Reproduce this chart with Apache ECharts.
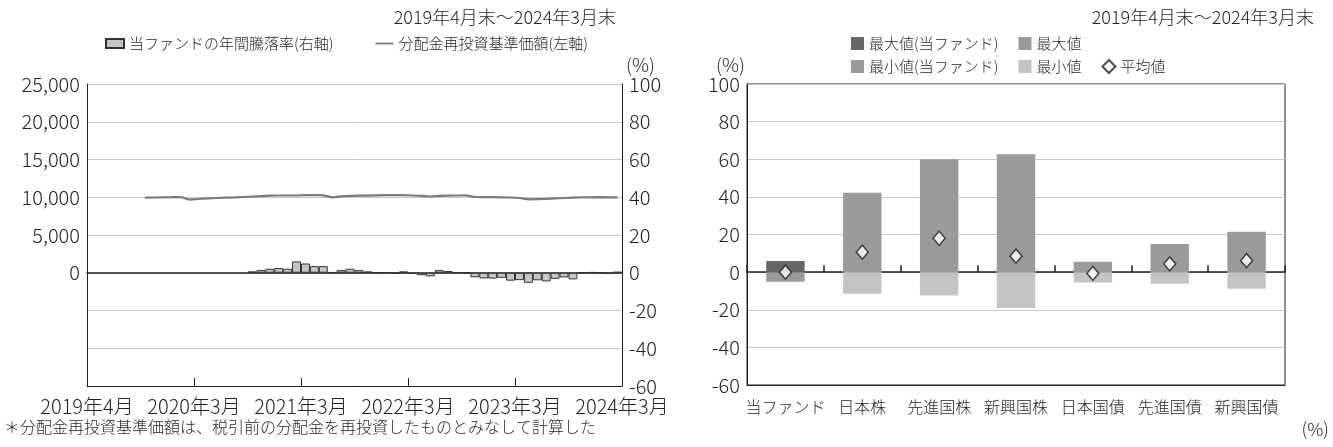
<!DOCTYPE html>
<html><head><meta charset="utf-8">
<script src="https://cdn.jsdelivr.net/npm/echarts@6/dist/echarts.min.js"></script>
<style>html,body{margin:0;padding:0;background:#fff}#c{width:1333px;height:447px}</style>
</head><body><div id="c"></div>
<script>
// ---- data ----
const periodTitle = '2019年4月末～2024年3月末';
const xTickLabels = ['2019年4月','2020年3月','2021年3月','2022年3月','2023年3月','2024年3月'];
const months = [];
for (let i = 0; i < 60; i++) { const t = 2019 * 12 + 3 + i; months.push(Math.floor(t / 12) + '年' + (t % 12 + 1) + '月'); }
const navValues = [null,null,null,null,null,null,
  9950,9970,9990,10010,10035,9680,9770,9860,9900,9950,9990,10035,10080,10145,10210,10230,10230,10230,
  10280,10300,10255,9990,10125,10170,10210,10210,10255,10280,10300,10280,10230,10170,10100,10190,10210,
  10230,10255,10035,10010,10010,9990,9970,9900,9730,9750,9770,9860,9900,9950,9990,9990,10010,9990,9990];
const returnValues = [null,null,null,null,null,null,null,null,null,null,null,null,null,null,null,null,null,null,
  0.7,1.4,2.1,2.5,2.1,6.0,4.9,3.5,3.5,0.3,1.4,2.1,1.4,0.7,0.2,0.1,-0.1,0.7,-0.6,-1.3,-1.9,1.4,0.9,0.1,-0.1,
  -2.4,-3.0,-3.1,-2.7,-4.2,-3.9,-5.3,-4.0,-4.6,-3.2,-2.5,-3.5,-0.1,0.3,0.1,-0.4,0.5];
const categories = ['当ファンド','日本株','先進国株','新興国株','日本国債','先進国債','新興国債'];
const maxValues = [5.9, 42.2, 60.0, 62.7, 5.5, 15.0, 21.4];
const minValues = [-5.1, -11.5, -12.4, -19.1, -5.5, -6.2, -8.8];
const avgValues = [0.0, 10.6, 18.0, 8.5, -0.7, 4.4, 6.1];

// ---- chart ----
const FONT = '"Noto Sans CJK JP", sans-serif';
const INK = '#231f20';
const txt = (size) => ({ fontFamily: FONT, fontSize: size, color: INK, fontWeight: 300 });
const fundOnly = (arr) => arr.map((v, i) => i === 0 ? v : '-');
const othersOnly = (arr) => arr.map((v, i) => i === 0 ? '-' : v);

const chart = echarts.init(document.getElementById('c'), null, { renderer: 'canvas' });
chart.setOption({
  animation: false,
  textStyle: { fontFamily: FONT },
  title: [
    { text: periodTitle, right: 712, top: 3, textStyle: txt(18) },
    { text: periodTitle, right: 14, top: 3, textStyle: txt(18) }
  ],
  legend: [
    { left: 100, top: 31, itemGap: 42, itemWidth: 18, itemHeight: 9, textStyle: txt(15),
      data: [{ name: '当ファンドの年間騰落率(右軸)', icon: 'rect' },
             { name: '分配金再投資基準価額(左軸)', icon: 'path://M0,0H20V2H0Z' }] },
    { left: 846, top: 31, itemGap: 20, itemWidth: 13, itemHeight: 13, textStyle: txt(15),
      data: [{ name: '最大値(当ファンド)', icon: 'rect' }, { name: '最大値', icon: 'rect' }] },
    { left: 846, top: 54, itemGap: 20, itemWidth: 13, itemHeight: 13, textStyle: txt(15),
      data: [{ name: '最小値(当ファンド)', icon: 'rect' }, { name: '最小値', icon: 'rect' }, { name: '平均値', icon: 'diamond' }] }
  ],
  grid: [
    { left: 87, right: 711, top: 84, bottom: 61 },
    { left: 747, right: 48, top: 84, bottom: 62, show: true, borderColor: INK, borderWidth: 1 }
  ],
  xAxis: [
    { gridIndex: 0, type: 'category', data: months, boundaryGap: true, position: 'bottom',
      axisLine: { show: true, onZero: false, lineStyle: { color: INK, width: 1 } },
      axisTick: { show: true, inside: true, length: 8, interval: (i) => i > 0 && i % 12 === 0, lineStyle: { color: INK, width: 1 } },
      axisLabel: { show: false }, splitLine: { show: false } },
    { gridIndex: 0, type: 'value', min: 0, max: 60, interval: 12, position: 'bottom',
      axisLine: { show: false, onZero: false }, axisTick: { show: false }, splitLine: { show: false },
      axisLabel: { ...txt(20), margin: 10, formatter: (v) => xTickLabels[Math.round(v / 12)] } },
    { gridIndex: 0, type: 'category', data: months, boundaryGap: true,
      axisLine: { show: true, onZero: true, lineStyle: { color: INK, width: 1.5 } },
      axisTick: { show: false }, axisLabel: { show: false }, splitLine: { show: false } },
    { gridIndex: 1, type: 'category', data: categories, position: 'bottom',
      axisLine: { show: true, onZero: false, lineStyle: { color: INK } }, axisTick: { show: false },
      axisLabel: { ...txt(16), margin: 14, interval: 0 } },
    { gridIndex: 1, type: 'category', data: categories, position: 'bottom',
      axisLine: { show: true, onZero: true, lineStyle: { color: INK, width: 1.5 } },
      axisTick: { show: true, inside: true, length: 7, interval: 0, lineStyle: { color: INK, width: 1.5 } },
      axisLabel: { show: false } }
  ],
  yAxis: [
    { gridIndex: 0, type: 'value', min: -15000, max: 25000, interval: 5000, position: 'left',
      axisLine: { show: true, onZero: false, lineStyle: { color: INK } }, axisTick: { show: false },
      splitLine: { show: true, lineStyle: { color: '#c8c8c8' } },
      axisLabel: { ...txt(20), margin: 7, formatter: (v) => v < 0 ? '' : v.toLocaleString('en-US') } },
    { gridIndex: 0, type: 'value', min: -60, max: 100, interval: 20, position: 'right',
      name: '(%)', nameLocation: 'end', nameGap: 6,
      nameTextStyle: { ...txt(19), align: 'left', padding: [0, 0, 0, 4] },
      axisLine: { show: true, onZero: false, lineStyle: { color: INK } }, axisTick: { show: false },
      splitLine: { show: false }, axisLabel: { ...txt(20), margin: 7 } },
    { gridIndex: 1, type: 'value', min: -60, max: 100, interval: 20, position: 'left',
      name: '(%)', nameLocation: 'end', nameGap: 6,
      nameTextStyle: { ...txt(19), align: 'right', padding: [0, 2, 0, 0] },
      axisLine: { show: true, onZero: false, lineStyle: { color: INK } }, axisTick: { show: false },
      splitLine: { show: true, lineStyle: { color: '#c8c8c8' } }, axisLabel: { ...txt(20), margin: 7 } }
  ],
  series: [
    { name: '当ファンドの年間騰落率(右軸)', type: 'bar', xAxisIndex: 0, yAxisIndex: 1, data: returnValues,
      barCategoryGap: '0%', itemStyle: { color: '#c6c6c6', borderColor: '#333', borderWidth: 1 } },
    { name: '分配金再投資基準価額(左軸)', type: 'line', xAxisIndex: 0, yAxisIndex: 0, data: navValues,
      showSymbol: false, symbol: 'none', lineStyle: { color: '#7a7a7a', width: 2.2 }, itemStyle: { color: '#7a7a7a' } },
    { name: '最大値(当ファンド)', type: 'bar', xAxisIndex: 3, yAxisIndex: 2, stack: 'r', barWidth: '50%',
      data: fundOnly(maxValues), itemStyle: { color: '#67676a' } },
    { name: '最大値', type: 'bar', xAxisIndex: 3, yAxisIndex: 2, stack: 'r', barWidth: '50%',
      data: othersOnly(maxValues), itemStyle: { color: '#9a9a9d' } },
    { name: '最小値(当ファンド)', type: 'bar', xAxisIndex: 3, yAxisIndex: 2, stack: 'r', barWidth: '50%',
      data: fundOnly(minValues), itemStyle: { color: '#9a9a9d' } },
    { name: '最小値', type: 'bar', xAxisIndex: 3, yAxisIndex: 2, stack: 'r', barWidth: '50%',
      data: othersOnly(minValues), itemStyle: { color: '#c4c4c6' } },
    { name: '平均値', type: 'scatter', xAxisIndex: 3, yAxisIndex: 2, data: avgValues, z: 5,
      symbol: 'diamond', symbolSize: [12, 14],
      itemStyle: { color: '#fff', borderColor: INK, borderWidth: 1.5 } }
  ],
  graphic: [
    { type: 'text', left: 4, top: 419, style: { text: '＊分配金再投資基準価額は、税引前の分配金を再投資したものとみなして計算した', font: '300 16px ' + FONT, fill: INK } },
    { type: 'text', right: 4, top: 420, style: { text: '(%)', font: '300 18px ' + FONT, fill: INK } }
  ]
});
</script></body></html>
